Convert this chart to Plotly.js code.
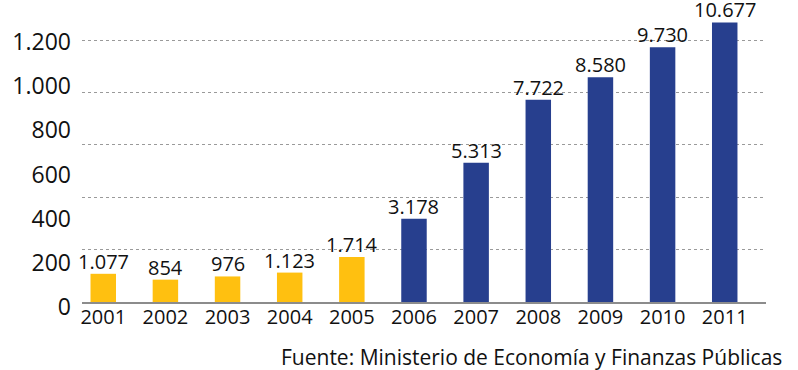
<!DOCTYPE html>
<html>
<head>
<meta charset="utf-8">
<script src="https://cdn.plot.ly/plotly-3.0.1.min.js"></script>
<style>html,body{margin:0;padding:0;background:#fff;}#chart{width:798px;height:370px;}</style>
</head>
<body>
<div id="chart"></div>
<script>
const years = ['2001','2002','2003','2004','2005','2006','2007','2008','2009','2010','2011'];
const values = [1077, 854, 976, 1123, 1714, 3178, 5313, 7722, 8580, 9730, 10677];
const labels = ['1.077','854','976','1.123','1.714','3.178','5.313','7.722','8.580','9.730','10.677'];
const barColors = ['#FFC010','#FFC010','#FFC010','#FFC010','#FFC010','#273F8E','#273F8E','#273F8E','#273F8E','#273F8E','#273F8E'];
const axisTickVals = [0, 200, 400, 600, 800, 1000, 1200];
const axisTickText = ['0','200','400','600','800','1.000','1.200'];
const source = 'Fuente: Ministerio de Economía y Finanzas Públicas';

const font = '"Open Sans", "Noto Sans", sans-serif';

const data = [{
  type: 'bar',
  x: years,
  y: values,
  marker: {color: barColors},
  width: 0.41,
  hoverinfo: 'none'
}, {
  // helper empty trace so the secondary (label) axis is rendered
  type: 'scatter', x: [], y: [], yaxis: 'y2', hoverinfo: 'none', showlegend: false
}];

// category axis: annotations use the category index of each year
const valueLabels = years.map((yr, i) => ({
  x: i, y: values[i], xref: 'x', yref: 'y',
  text: labels[i],
  xanchor: 'center', yanchor: 'bottom', yshift: -3,
  showarrow: false,
  font: {family: font, size: 20, color: '#111'}
}));

const layout = {
  width: 798, height: 370,
  margin: {l: 82, r: 32, t: 10, b: 68},
  paper_bgcolor: '#fff', plot_bgcolor: '#fff',
  showlegend: false,
  xaxis: {
    type: 'category',
    range: [-0.342, 10.664],
    showgrid: false,
    showline: true, linecolor: '#8c8c8c', linewidth: 2,
    ticks: '',
    tickfont: {family: font, size: 20, color: '#111'},
    ticklabelstandoff: -4,
    zeroline: false
  },
  yaxis: {
    range: [0, 11150],
    dtick: 2000,
    showgrid: true, gridcolor: '#9a9a9a', griddash: 'dot', gridwidth: 1,
    showticklabels: false,
    zeroline: false, showline: false, ticks: ''
  },
  yaxis2: {
    overlaying: 'y', side: 'left',
    range: [0, 1322],
    tickvals: axisTickVals, ticktext: axisTickText,
    tickmode: 'array',
    showgrid: false, zeroline: false, showline: false, ticks: '',
    tickfont: {family: font, size: 23, color: '#111'},
    ticklabelshift: 5,
    ticklabelstandoff: 10
  },
  annotations: valueLabels.concat([{
    text: source,
    xref: 'paper', yref: 'paper',
    x: 1.026, y: -0.187,
    xanchor: 'right', yanchor: 'middle',
    showarrow: false,
    font: {family: font, size: 21, color: '#111'}
  }])
};

Plotly.newPlot('chart', data, layout, {displayModeBar: false, staticPlot: true});
</script>
</body>
</html>
